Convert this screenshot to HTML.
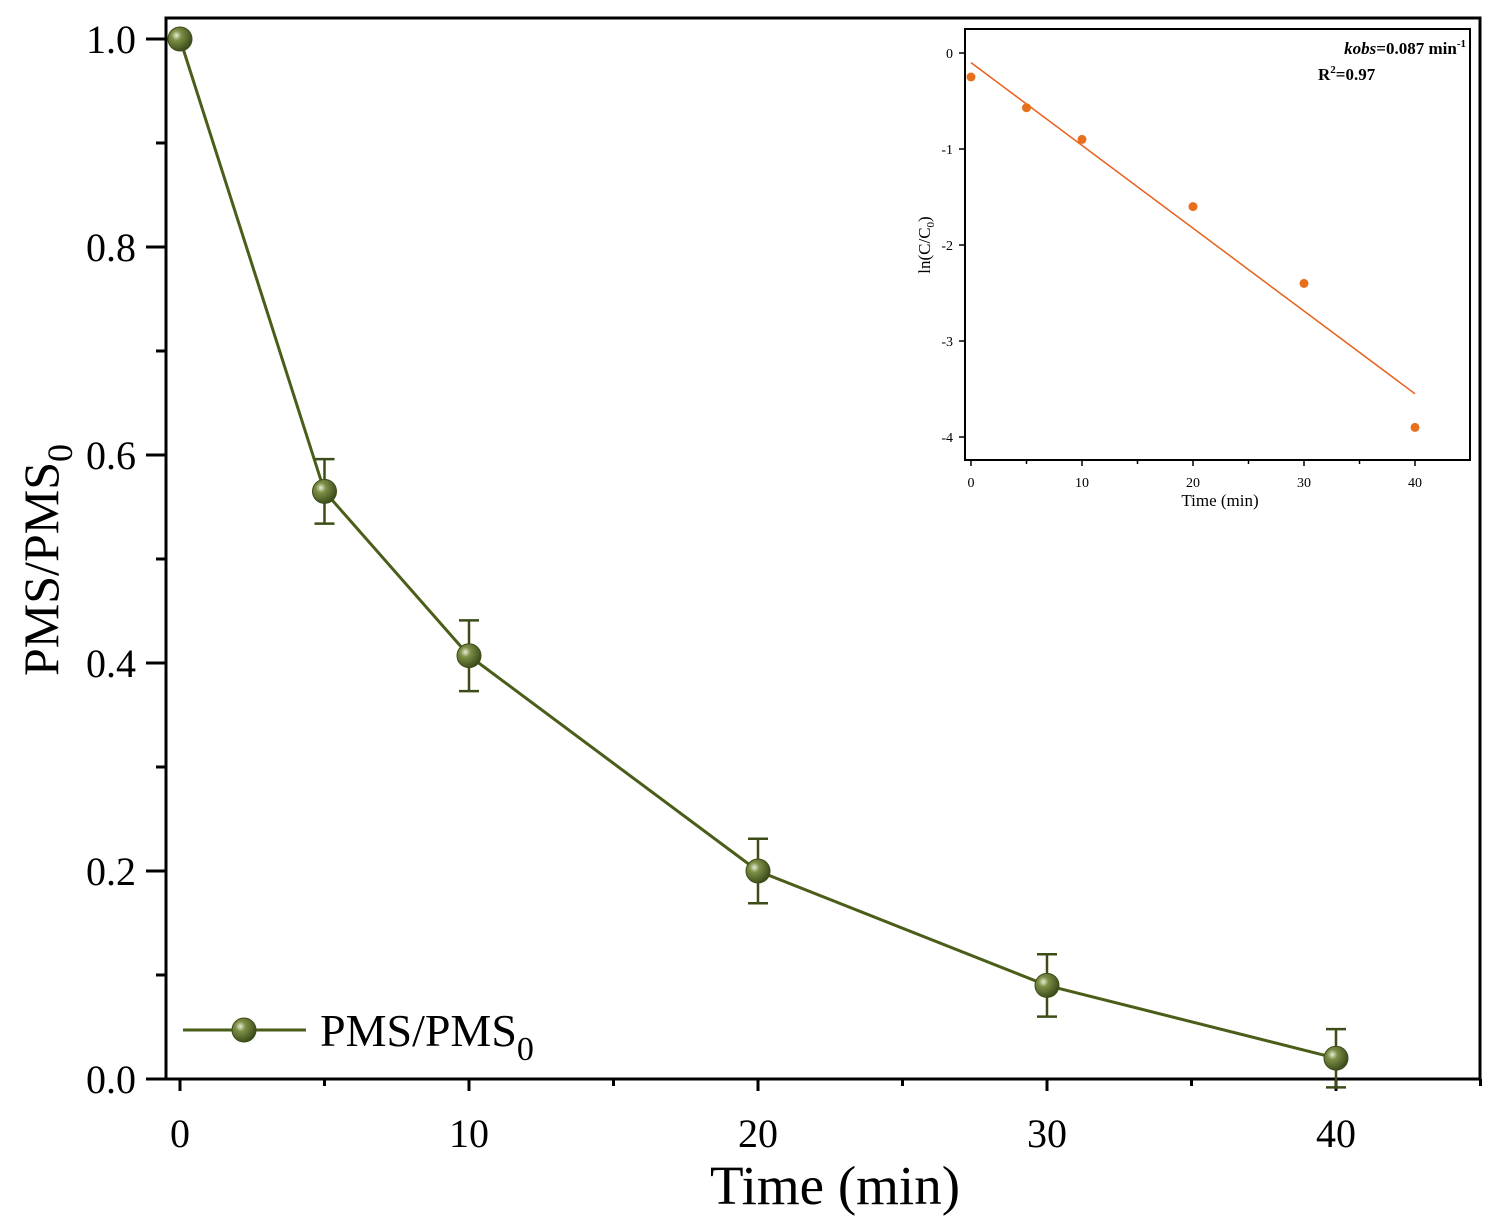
<!DOCTYPE html>
<html><head><meta charset="utf-8"><style>
html,body{margin:0;padding:0;background:#fff;}
svg{display:block;font-family:"Liberation Serif",serif;}
</style></head><body>
<svg id="chart" width="1502" height="1226" viewBox="0 0 1502 1226">
<defs>
<radialGradient id="ball" cx="0.35" cy="0.35" r="0.7">
<stop offset="0" stop-color="#e8ecd8"/><stop offset="0.3" stop-color="#7d8f45"/><stop offset="1" stop-color="#38481a"/>
</radialGradient>
</defs>
<g id="main"></g>
<g id="inset"></g>
</svg>
<script>
const times = [0, 5, 10, 20, 30, 40];
const ratio = [1.0, 0.565, 0.407, 0.2, 0.09, 0.02];
const errs = [0, 0.031, 0.034, 0.031, 0.03, 0.028];
const xTicks = [0, 10, 20, 30, 40];
const yTicks = [0.0, 0.2, 0.4, 0.6, 0.8, 1.0];
const insetTimes = [0, 5, 10, 20, 30, 40];
const insetLn = [-0.25, -0.57, -0.9, -1.6, -2.4, -3.9];
const insetFit = [-0.1, -3.55];
const insetXTicks = [0, 10, 20, 30, 40];
const insetYTicks = [0, -1, -2, -3, -4];

const NS = "http://www.w3.org/2000/svg";
function mk(parent, tag, attrs, text){
  const e = document.createElementNS(NS, tag);
  for (const k in attrs) e.setAttribute(k, attrs[k]);
  if (text !== undefined) e.textContent = text;
  parent.appendChild(e); return e;
}
const main = document.getElementById('main');
const X = v => 180 + v * (1336 - 180) / 40;
const Y = v => 1079 - v * 1040;
const L = 166, R = 1480, T = 18, B = 1079;

xTicks.forEach(t => {
  const l = mk(main, 'line', {x1: X(t), x2: X(t), y1: B, y2: B + 12, stroke: '#000', 'stroke-width': 3});
  
  
  const tx = mk(main, 'text', {x: X(t), y: B + 68, 'font-size': 40, 'text-anchor': 'middle'}, String(t));
  
  
});
[5, 15, 25, 35, 45].forEach(t => {
  const l = mk(main, 'line', {x1: X(t), x2: X(t), y1: B, y2: B + 7, stroke: '#000', 'stroke-width': 3});
  
  
});
yTicks.forEach(t => {
  const l = mk(main, 'line', {x1: L - 20, x2: L, y1: Y(t), y2: Y(t), stroke: '#000', 'stroke-width': 3});
  
  
  const tx = mk(main, 'text', {x: L - 30, y: Y(t) + 14, 'font-size': 40, 'text-anchor': 'end'}, t.toFixed(1));
  
  
});
[0.1, 0.3, 0.5, 0.7, 0.9].forEach(t => {
  const l = mk(main, 'line', {x1: L - 10, x2: L, y1: Y(t), y2: Y(t), stroke: '#000', 'stroke-width': 3});
  
  
});
const frame = mk(main, 'rect', {x: L, y: T, width: R - L, height: B - T, fill: 'none', stroke: '#000', 'stroke-width': 3});



const pl = mk(main, 'polyline', {points: times.map((t, i) => X(t) + ',' + Y(ratio[i])).join(' '), fill: 'none', stroke: '#4a5e1a', 'stroke-width': 3});


times.forEach((t, i) => {
  if (errs[i] > 0) {
    const g = mk(main, 'path', {d: `M${X(t)},${Y(ratio[i] + errs[i])}V${Y(ratio[i] - errs[i])}M${X(t) - 10},${Y(ratio[i] + errs[i])}h20M${X(t) - 10},${Y(ratio[i] - errs[i])}h20`, stroke: '#3d4d17', 'stroke-width': 2.5, fill: 'none'});
    
    
  }
  const c = mk(main, 'circle', {cx: X(t), cy: Y(ratio[i]), r: 12, fill: 'url(#ball)', stroke: '#3d4d17', 'stroke-width': 1});
  
  
});

const lg = mk(main, 'g', {});


mk(lg, 'line', {x1: 183, x2: 306, y1: 1030, y2: 1030, stroke: '#4a5e1a', 'stroke-width': 3});
mk(lg, 'circle', {cx: 244, cy: 1030, r: 12, fill: 'url(#ball)', stroke: '#3d4d17'});
const lt = mk(lg, 'text', {x: 320, y: 1046, 'font-size': 46});
lt.innerHTML = 'PMS/PMS<tspan font-size="34" dy="14">0</tspan>';

const xt = mk(main, 'text', {x: 835, y: 1204, 'font-size': 55, 'text-anchor': 'middle'}, 'Time (min)');


const yt = mk(main, 'text', {x: 0, y: 0, 'font-size': 50, 'text-anchor': 'middle', transform: 'translate(58,560) rotate(-90)'});
yt.innerHTML = 'PMS/PMS<tspan font-size="36" dy="14">0</tspan>';



const ins = document.getElementById('inset');


const IX = v => 971 + v * (1415 - 971) / 40;
const IY = v => 53 - v * 96;
const IL = 965, IR = 1470, IT = 29, IB = 460;
const ifr = mk(ins, 'rect', {x: IL, y: IT, width: IR - IL, height: IB - IT, fill: '#fff', stroke: '#000', 'stroke-width': 2});


insetXTicks.forEach(t => {
  mk(ins, 'line', {x1: IX(t), x2: IX(t), y1: IB, y2: IB + 6, stroke: '#000', 'stroke-width': 1.5});
  const tx = mk(ins, 'text', {x: IX(t), y: IB + 27, 'font-size': 14, 'text-anchor': 'middle'}, String(t));
  
  
});
[5, 15, 25, 35].forEach(t => mk(ins, 'line', {x1: IX(t), x2: IX(t), y1: IB, y2: IB + 4, stroke: '#000', 'stroke-width': 1.5}));
insetYTicks.forEach(t => {
  mk(ins, 'line', {x1: IL - 6, x2: IL, y1: IY(t), y2: IY(t), stroke: '#000', 'stroke-width': 1.5});
  const tx = mk(ins, 'text', {x: IL - 12, y: IY(t) + 5, 'font-size': 14, 'text-anchor': 'end'}, String(t));
  
  
});
const fit = mk(ins, 'line', {x1: IX(insetTimes[0]), y1: IY(insetFit[0]), x2: IX(insetTimes[insetTimes.length - 1]), y2: IY(insetFit[1]), stroke: '#e8601c', 'stroke-width': 1.5});


insetTimes.forEach((t, i) => {
  const c = mk(ins, 'circle', {cx: IX(t), cy: IY(insetLn[i]), r: 4.5, fill: '#e8701c'});
  
  
});
const ixt = mk(ins, 'text', {x: 1220, y: 506, 'font-size': 17, 'text-anchor': 'middle'}, 'Time (min)');


const iyt = mk(ins, 'text', {x: 0, y: 0, 'font-size': 17, 'text-anchor': 'middle', transform: 'translate(930,245) rotate(-90)'});
iyt.innerHTML = 'ln(C/C<tspan font-size="11" dy="4">0</tspan><tspan dy="-4">)</tspan>';


const k1 = mk(ins, 'text', {x: 1466, y: 54, 'font-size': 17, 'text-anchor': 'end', 'font-weight': 'bold'});
k1.innerHTML = '<tspan font-style="italic">kobs</tspan>=0.087 min<tspan font-size="11" dy="-7">-1</tspan>';


const k2 = mk(ins, 'text', {x: 1318, y: 80, 'font-size': 17, 'font-weight': 'bold'});
k2.innerHTML = 'R<tspan font-size="11" dy="-7">2</tspan><tspan dy="7">=0.97</tspan>';


</script>
</body></html>
